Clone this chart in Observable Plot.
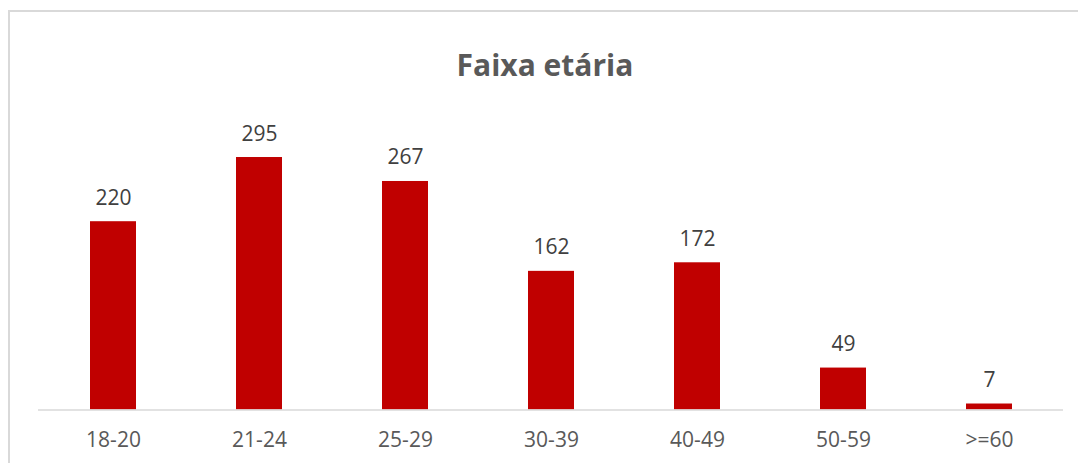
<!DOCTYPE html>
<html>
<head>
<meta charset="utf-8">
<script src="https://cdn.jsdelivr.net/npm/d3@7"></script>
<script src="https://cdn.jsdelivr.net/npm/@observablehq/plot@0.6"></script>
<style>
  html, body { margin: 0; padding: 0; background: #fff; }
  #wrap { position: relative; width: 1078px; height: 463px; overflow: hidden; font-family: "Open Sans", sans-serif; }
  #frame { position: absolute; left: 8px; top: 10px; width: 1200px; height: 600px; border: 2px solid #d9d9d9; box-sizing: border-box; }
  #title { position: relative; height: 100px; width: 1078px; }
  #title span { position: absolute; left: 545px; top: 50px; transform: translateX(-50%); font-weight: 700; font-size: 30px; color: #595959; white-space: nowrap; line-height: 1; }
  #chart { position: relative; }
  #chart svg { display: block; }
</style>
</head>
<body>
<div id="wrap">
  <div id="frame"></div>
  <div id="title"><span>Faixa etária</span></div>
  <div id="chart"></div>
</div>
<script>
const categories = ["18-20", "21-24", "25-29", "30-39", "40-49", "50-59", ">=60"];
const values = [220, 295, 267, 162, 172, 49, 7];

const data = categories.map((c, i) => ({ cat: c, value: values[i] }));

const chart = Plot.plot({
  width: 1078,
  height: 363,
  marginLeft: 38,
  marginRight: 15,
  marginTop: 18.5,
  marginBottom: 53.5,
  style: { fontFamily: "'Open Sans', sans-serif", background: "transparent", overflow: "visible" },
  x: { domain: categories, paddingInner: 0.686, paddingOuter: 0.343, label: null },
  y: { domain: [0, 340], axis: null },
  marks: [
    Plot.barY(data, { x: "cat", y: "value", fill: "#C00000" }),
    Plot.ruleY([0], { stroke: "#d9d9d9", strokeWidth: 1.5 }),
    Plot.text(data, { x: "cat", y: "value", text: d => String(d.value), lineAnchor: "bottom", dy: -17, fontSize: 21, fill: "#404040" }),
    Plot.axisX({ tickSize: 0, tickPadding: 22, fontSize: 21, color: "#595959", label: null })
  ]
});
document.getElementById("chart").appendChild(chart);
</script>
</body>
</html>
